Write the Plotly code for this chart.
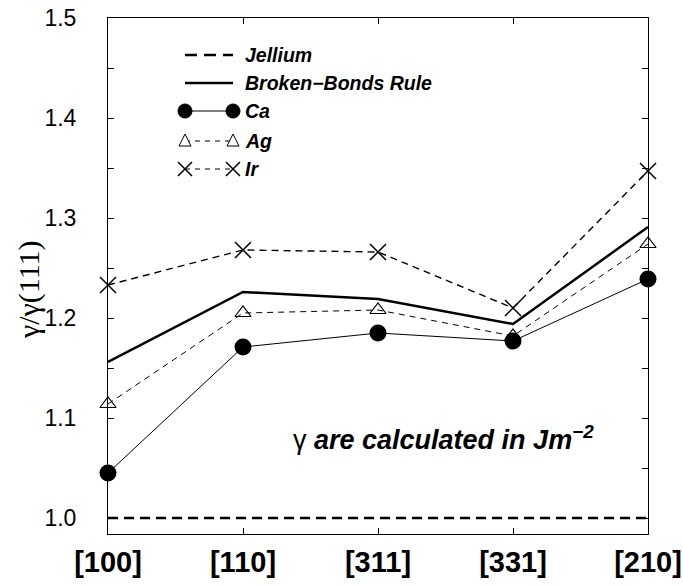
import plotly.graph_objects as go

# ---- data ----
facets = ["[100]", "[110]", "[311]", "[331]", "[210]"]
jellium = [1.0, 1.0, 1.0, 1.0, 1.0]
broken_bonds = [1.156, 1.226, 1.219, 1.194, 1.291]
ca = [1.045, 1.171, 1.185, 1.177, 1.239]
ag = [1.114, 1.205, 1.208, 1.182, 1.274]
ir = [1.233, 1.268, 1.266, 1.210, 1.347]
y_ticks = [1.0, 1.1, 1.2, 1.3, 1.4, 1.5]

xs = list(range(len(facets)))

fig = go.Figure()
fig.add_trace(go.Scatter(x=xs, y=jellium, mode="lines", name="Jellium",
                         line=dict(color="black", width=2.5, dash="10px,6px"),
                         cliponaxis=False))
fig.add_trace(go.Scatter(x=xs, y=broken_bonds, mode="lines", name="Broken-Bonds Rule",
                         line=dict(color="black", width=2.5), cliponaxis=False))
fig.add_trace(go.Scatter(x=xs, y=ag, mode="lines+markers", name="Ag",
                         line=dict(color="black", width=1, dash="6px,5px"),
                         marker=dict(symbol="triangle-up-open", size=14,
                                     color="black", line=dict(width=1.2)),
                         cliponaxis=False))
fig.add_trace(go.Scatter(x=xs, y=ir, mode="lines+markers", name="Ir",
                         line=dict(color="black", width=1.4, dash="7px,5px"),
                         marker=dict(symbol="x-thin-open", size=16,
                                     color="black", line=dict(width=1.5)),
                         cliponaxis=False))
fig.add_trace(go.Scatter(x=xs, y=ca, mode="lines+markers", name="Ca",
                         line=dict(color="black", width=1),
                         marker=dict(symbol="circle", size=17, color="black"),
                         cliponaxis=False))

# ---- custom legend (pixel layout) ----
L, R, T, B = 108, 648, 18, 534
def px(x):
    return (x - L) / (R - L)
def py(y):
    return (B - y) / (B - T)

shapes = []
annotations = []
leg = [
    ("Jellium", 55, dict(width=2.5, dash="12px,7px"), None),
    ("Broken\u2212Bonds Rule", 83, dict(width=2.5), None),
    ("Ca", 111, dict(width=1), "circle"),
    ("Ag", 141, dict(width=1, dash="5px,5px"), "tri"),
    ("Ir", 169, dict(width=1.2, dash="5px,5px"), "x"),
]
x0s, x1s = 185, 233
for text, yy, ln, mk in leg:
    shapes.append(dict(type="line", xref="paper", yref="paper",
                       x0=px(x0s), x1=px(x1s), y0=py(yy), y1=py(yy),
                       line=dict(color="black", **ln)))
    for xm in (x0s, x1s):
        common = dict(xref="paper", yref="paper", xsizemode="pixel", ysizemode="pixel",
                      xanchor=px(xm), yanchor=py(yy))
        if mk == "circle":
            shapes.append(dict(type="circle", x0=-7, x1=7, y0=-7, y1=7,
                               fillcolor="black", line=dict(color="black", width=1), **common))
        elif mk == "tri":
            shapes.append(dict(type="path", path="M -6,-5 L 6,-5 L 0,7 Z",
                               fillcolor="white", line=dict(color="black", width=1), **common))
        elif mk == "x":
            shapes.append(dict(type="path", path="M -7,-7 L 7,7 M -7,7 L 7,-7",
                               line=dict(color="black", width=1.5), **common))
    annotations.append(dict(xref="paper", yref="paper", x=px(243), y=py(yy),
                            xanchor="left", yanchor="middle", showarrow=False,
                            text=f"<b><i>{text}</i></b>",
                            font=dict(family="Liberation Sans, Arial", size=19.5, color="black")))

annotations.append(dict(xref="paper", yref="paper", x=px(443), y=py(438),
                        xanchor="center", yanchor="middle", showarrow=False,
                        text="\u03b3 <b><i>are calculated in Jm<sup>\u22122</sup></i></b>",
                        font=dict(family="Liberation Sans, Arial", size=27, color="black")))

# y-axis title placed as rotated text
annotations.append(dict(xref="paper", yref="paper", x=px(29), y=py(290),
                        xanchor="center", yanchor="middle", showarrow=False, textangle=-90,
                        text="\u03b3/\u03b3(111)",
                        font=dict(family="Liberation Serif, DejaVu Serif, serif", size=30,
                                  color="black")))

fig.update_layout(
    width=683, height=587,
    margin=dict(l=L, r=683 - R, t=T, b=587 - B),
    paper_bgcolor="white", plot_bgcolor="white",
    showlegend=False,
    shapes=shapes, annotations=annotations,
    xaxis=dict(range=[0, 4], tickmode="array", tickvals=xs, ticktext=facets,
               showline=True, mirror="ticks", linecolor="black", linewidth=1,
               ticks="inside", ticklen=6, tickcolor="black", showgrid=False, zeroline=False,
               automargin=False, ticklabeloverflow="allow",
               tickfont=dict(family="Liberation Sans, Arial", size=29,
                             color="black", weight="bold"),
               ticklabelstandoff=2),
    yaxis=dict(range=[0.984, 1.5], tickmode="array", tickvals=y_ticks,
               ticktext=[f"{v:.1f}" for v in y_ticks],
               showline=True, mirror="ticks", linecolor="black", linewidth=1,
               ticks="inside", ticklen=6, tickcolor="black", showgrid=False, zeroline=False,
               automargin=False, ticklabeloverflow="allow",
               minor=dict(dtick=0.05, tick0=1.0, ticks="inside", ticklen=6, tickcolor="black"),
               tickfont=dict(family="Liberation Sans, Arial", size=23, color="black"),
               ticklabelstandoff=26),
)

fig.write_html("out.html")
